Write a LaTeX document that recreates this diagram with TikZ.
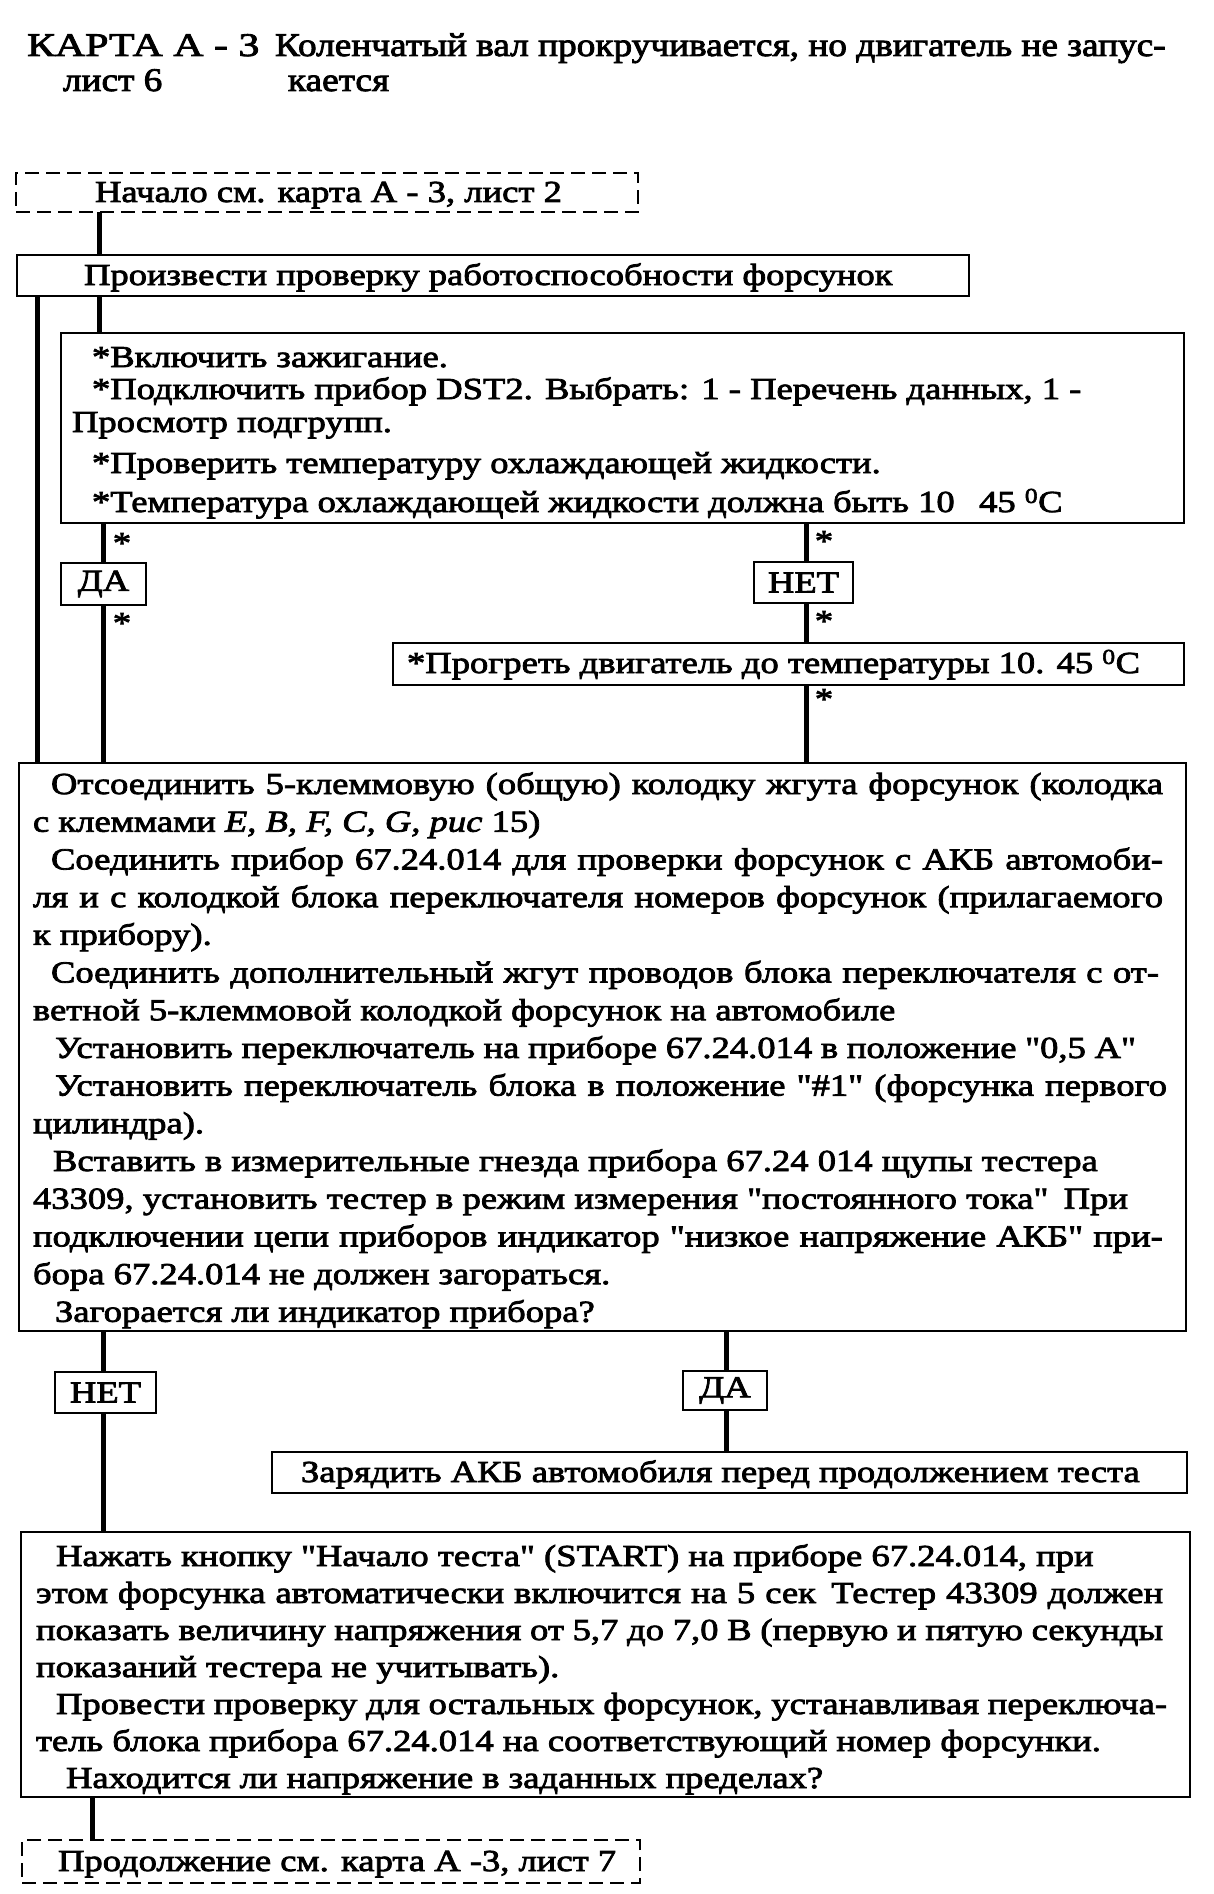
\documentclass[tikz,border=0pt]{standalone}
\usepackage{fontspec}
\setmainfont{Liberation Serif}
\newfontfamily\bodyfnt{Liberation Serif}[FakeStretch=1.2,FakeBold=2.6]
\newfontfamily\ttlA{Liberation Serif}[FakeStretch=1.27,FakeBold=2.6]
\newfontfamily\ttlB{Liberation Serif}[FakeStretch=1.13,FakeBold=2.6]
\begin{document}
\begin{tikzpicture}[x=1pt,y=-1pt,
  every node/.style={inner sep=0pt, outer sep=0pt},
  box/.style={draw, line width=2pt, rectangle},
  dbox/.style={draw, line width=2.2pt, rectangle, dash pattern=on 14pt off 7pt},
  conn/.style={line width=5pt},
  bodyfont/.style={font=\bodyfnt\fontsize{30.5}{36}\selectfont},
  txt/.style={anchor=base west, bodyfont},
  lbl/.style={box, bodyfont},
  ttla/.style={anchor=base west, font=\ttlA\fontsize{33}{40}\selectfont},
  ttlb/.style={anchor=base west, font=\ttlB\fontsize{33}{40}\selectfont},
  ast/.style={anchor=base, bodyfont}]
\useasboundingbox (0,0) rectangle (1213,1894);
% columns of the connectors
\coordinate (xA) at (37,0);
\coordinate (xB) at (99,0);
\coordinate (xC) at (103,0);
\coordinate (xD) at (806,0);
\coordinate (xE) at (726,0);
\coordinate (xF) at (92,0);
% title
\node[ttla] (t1) at (27,56) {КАРТА А - 3};
\node[ttlb] (t2) at (275,56) {Коленчатый вал прокручивается, но двигатель не запус-};
\node[ttlb] (t3) at (63,91) {лист 6};
\node[ttlb] (t4) at (288,91) {кается};
% boxes
\node[dbox, minimum width=622pt, minimum height=39pt] (d1) at (327,192.5) {};
\node[box, minimum width=952pt, minimum height=41pt] (b2) at (493,275.5) {};
\node[box, minimum width=1123pt, minimum height=190pt] (vkl) at (622.5,428) {};
\node[lbl, minimum width=85pt, minimum height=42pt] (da1) at (103.5,584) {ДА};
\node[lbl, minimum width=99pt, minimum height=41pt] (net1) at (803.5,582.5) {НЕТ};
\node[box, minimum width=791pt, minimum height=42pt] (prog) at (788.5,664) {};
\node[box, minimum width=1167pt, minimum height=568pt] (b3) at (602.5,1047) {};
\node[lbl, minimum width=101pt, minimum height=41pt] (net2) at (105.5,1392.5) {НЕТ};
\node[lbl, minimum width=84pt, minimum height=39pt] (da2) at (725,1390.5) {ДА};
\node[box, minimum width=915pt, minimum height=41pt] (zar) at (729.5,1472.5) {};
\node[box, minimum width=1169pt, minimum height=265pt] (b5) at (605.5,1664.5) {};
\node[dbox, minimum width=618pt, minimum height=43pt] (d2) at (331,1861.5) {};
% connectors
\draw[conn] (d1.south -| xB) -- (b2.north -| xB);
\draw[conn] (b2.south -| xA) -- (b3.north -| xA);
\draw[conn] (b2.south -| xB) -- (vkl.north -| xB);
\draw[conn] (vkl.south -| xC) -- (da1.north -| xC);
\draw[conn] (da1.south -| xC) -- (b3.north -| xC);
\draw[conn] (vkl.south -| xD) -- (net1.north -| xD);
\draw[conn] (net1.south -| xD) -- (prog.north -| xD);
\draw[conn] (prog.south -| xD) -- (b3.north -| xD);
\draw[conn] (b3.south -| xC) -- (net2.north -| xC);
\draw[conn] (net2.south -| xC) -- (b5.north -| xC);
\draw[conn] (b3.south -| xE) -- (da2.north -| xE);
\draw[conn] (da2.south -| xE) -- (zar.north -| xE);
\draw[conn] (b5.south -| xF) -- (d2.north -| xF);
% asterisks beside the connectors
\node[ast] (s1) at (122,553) {*};
\node[ast] (s2) at (122,633) {*};
\node[ast] (s3) at (824,551) {*};
\node[ast] (s4) at (824,631) {*};
\node[ast] (s5) at (824,709) {*};
% texts
\node[txt] (d1t) at (95,202) {Начало см. карта А - 3, лист 2};
\node[txt] (b2t) at (84,285) {Произвести проверку работоспособности форсунок};
\node[txt] (v1) at (92,367) {*Включить зажигание.};
\node[txt] (v2) at (92,399) {*Подключить прибор DST2. Выбрать: 1 - Перечень данных, 1 -};
\node[txt] (v3) at (72,432) {Просмотр подгрупп.};
\node[txt] (v4) at (92,473) {*Проверить температуру охлаждающей жидкости.};
\node[txt] (v5) at (92,512) {*Температура охлаждающей жидкости должна быть 10\hspace{0.8em}45 \textsuperscript{0}C};
\node[txt] (pt) at (407,673) {*Прогреть двигатель до температуры 10.\hspace{0.4em}45 \textsuperscript{0}C};
\node[txt] (c1) at (51,794) {\makebox[1112pt][s]{Отсоединить 5-клеммовую (общую) колодку жгута форсунок (колодка}};
\node[txt] (c2) at (33,831.7) {с клеммами \textit{E, B, F, C, G, рис} 15)};
\node[txt] (c3) at (51,869.4) {\makebox[1112pt][s]{Соединить прибор 67.24.014 для проверки форсунок с АКБ автомоби-}};
\node[txt] (c4) at (33,907.1) {\makebox[1130pt][s]{ля и с колодкой блока переключателя номеров форсунок (прилагаемого}};
\node[txt] (c5) at (33,944.8) {к прибору).};
\node[txt] (c6) at (51,982.5) {\makebox[1108pt][s]{Соединить дополнительный жгут проводов блока переключателя с от-}};
\node[txt] (c7) at (33,1020.2) {ветной 5-клеммовой колодкой форсунок на автомобиле};
\node[txt] (c8) at (55,1057.9) {\makebox[1081pt][s]{Установить переключатель на приборе 67.24.014 в положение "0,5 А"}};
\node[txt] (c9) at (55,1095.6) {\makebox[1112pt][s]{Установить переключатель блока в положение "\#1" (форсунка первого}};
\node[txt] (c10) at (33,1133.3) {цилиндра).};
\node[txt] (c11) at (53,1171) {Вставить в измерительные гнезда прибора 67.24 014 щупы тестера};
\node[txt] (c12) at (33,1208.7) {\makebox[1095pt][s]{43309, установить тестер в режим измерения "постоянного тока"\enspace При}};
\node[txt] (c13) at (33,1246.4) {\makebox[1130pt][s]{подключении цепи приборов индикатор "низкое напряжение АКБ" при-}};
\node[txt] (c14) at (33,1284.1) {бора 67.24.014 не должен загораться.};
\node[txt] (c15) at (55,1321.8) {Загорается ли индикатор прибора?};
\node[txt] (zt) at (301,1482) {Зарядить АКБ автомобиля перед продолжением теста};
\node[txt] (e1) at (56,1566) {Нажать кнопку "Начало теста" (START) на приборе 67.24.014, при};
\node[txt] (e2) at (36,1603) {\makebox[1127pt][s]{этом форсунка автоматически включится на 5 сек\enspace Тестер 43309 должен}};
\node[txt] (e3) at (36,1640) {\makebox[1127pt][s]{показать величину напряжения от 5,7 до 7,0 В (первую и пятую секунды}};
\node[txt] (e4) at (36,1677) {показаний тестера не учитывать).};
\node[txt] (e5) at (56,1714) {\makebox[1111pt][s]{Провести проверку для остальных форсунок, устанавливая переключа-}};
\node[txt] (e6) at (36,1751) {тель блока прибора 67.24.014 на соответствующий номер форсунки.};
\node[txt] (e7) at (66,1788) {Находится ли напряжение в заданных пределах?};
\node[txt] (d2t) at (58,1871) {Продолжение см. карта А -3, лист 7};
\end{tikzpicture}
\end{document}
